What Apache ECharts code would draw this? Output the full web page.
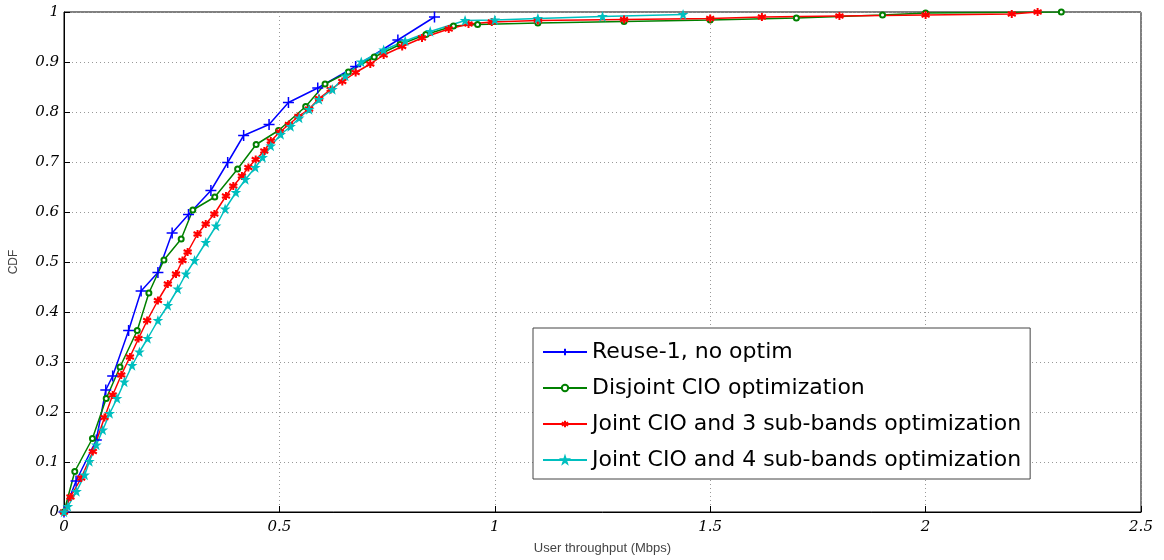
<!DOCTYPE html>
<html>
<head>
<meta charset="utf-8">
<script src="https://cdn.jsdelivr.net/npm/echarts@6/dist/echarts.min.js"></script>
<style>
  html, body { margin: 0; padding: 0; background: #fff; }
  #chart { width: 1164px; height: 560px; }
</style>
</head>
<body>
<div id="chart"></div>
<script>
// values
var reuseX = [0, 0.028, 0.075, 0.097, 0.113, 0.150, 0.179, 0.218, 0.251, 0.289, 0.341, 0.380, 0.417, 0.476, 0.521, 0.589, 0.677, 0.775, 0.860];
var reuseY = [0, 0.062, 0.144, 0.244, 0.272, 0.363, 0.442, 0.479, 0.558, 0.595, 0.643, 0.699, 0.753, 0.775, 0.819, 0.848, 0.891, 0.944, 0.990];

var disjointX = [0, 0.025, 0.066, 0.098, 0.130, 0.170, 0.197, 0.232, 0.272, 0.299, 0.350, 0.403, 0.446, 0.498, 0.561, 0.606, 0.66, 0.72, 0.78, 0.84, 0.904, 0.96, 1.1, 1.3, 1.5, 1.7, 1.9, 2.0, 2.315];
var disjointY = [0, 0.081, 0.147, 0.227, 0.290, 0.363, 0.438, 0.504, 0.546, 0.604, 0.630, 0.686, 0.735, 0.763, 0.811, 0.856, 0.880, 0.910, 0.935, 0.955, 0.972, 0.975, 0.978, 0.981, 0.984, 0.988, 0.994, 0.998, 1.0];

var joint3X = [0, 0.015, 0.040, 0.067, 0.094, 0.113, 0.133, 0.153, 0.173, 0.193, 0.218, 0.241, 0.260, 0.275, 0.287, 0.310, 0.329, 0.349, 0.376, 0.393, 0.413, 0.428, 0.445, 0.465, 0.480, 0.501, 0.522, 0.544, 0.569, 0.592, 0.619, 0.646, 0.677, 0.711, 0.742, 0.785, 0.831, 0.893, 0.939, 0.993, 1.1, 1.3, 1.5, 1.62, 1.8, 2.0, 2.2, 2.26];
var joint3Y = [0, 0.030, 0.068, 0.121, 0.189, 0.234, 0.274, 0.310, 0.347, 0.383, 0.423, 0.456, 0.476, 0.503, 0.520, 0.556, 0.576, 0.596, 0.632, 0.652, 0.672, 0.689, 0.705, 0.722, 0.742, 0.760, 0.775, 0.791, 0.806, 0.827, 0.845, 0.861, 0.879, 0.896, 0.914, 0.931, 0.948, 0.966, 0.976, 0.980, 0.983, 0.985, 0.987, 0.990, 0.992, 0.994, 0.996, 1.0];

var joint4X = [0, 0.009, 0.029, 0.048, 0.059, 0.075, 0.090, 0.106, 0.123, 0.140, 0.158, 0.175, 0.194, 0.218, 0.241, 0.264, 0.283, 0.303, 0.329, 0.353, 0.374, 0.399, 0.421, 0.444, 0.461, 0.480, 0.503, 0.526, 0.546, 0.569, 0.592, 0.623, 0.653, 0.69, 0.742, 0.792, 0.850, 0.931, 1.0, 1.1, 1.25, 1.437];
var joint4Y = [0, 0.011, 0.041, 0.074, 0.101, 0.134, 0.164, 0.197, 0.227, 0.260, 0.293, 0.320, 0.347, 0.383, 0.413, 0.446, 0.476, 0.503, 0.539, 0.572, 0.606, 0.639, 0.665, 0.689, 0.709, 0.732, 0.755, 0.771, 0.788, 0.805, 0.825, 0.845, 0.872, 0.900, 0.924, 0.942, 0.961, 0.983, 0.984, 0.987, 0.991, 0.995];

var names = ['Reuse-1, no optim', 'Disjoint CIO optimization', 'Joint CIO and 3 sub-bands optimization', 'Joint CIO and 4 sub-bands optimization'];

var plusPath = 'path://M0,-10 L0,10 M-10,0 L10,0';
var astPath = 'path://M0,-10 L0,10 M-8.7,-5 L8.7,5 M-8.7,5 L8.7,-5';
var starPath = 'path://M0,-10 L2.4,-3.1 L9.5,-3.1 L3.8,1.2 L5.9,8.1 L0,4 L-5.9,8.1 L-3.8,1.2 L-9.5,-3.1 L-2.4,-3.1 Z';

function pairs(xs, ys) {
  var out = [];
  for (var i = 0; i < xs.length; i++) out.push([xs[i], ys[i]]);
  return out;
}

function makeSeries(name, xs, ys, color, symbol, size, bw) {
  return {
    name: name,
    type: 'line',
    data: pairs(xs, ys),
    symbol: symbol,
    symbolSize: size,
    showAllSymbol: true,
    lineStyle: { color: color, width: 1.5 },
    itemStyle: { color: color, borderColor: color, borderWidth: bw },
    emphasis: { disabled: true }
  };
}

var chart = echarts.init(document.getElementById('chart'));
var option = {
  animation: false,
  backgroundColor: '#fff',
  grid: {
    left: 61, right: 23, top: 12, bottom: 46,
    show: true, borderColor: '#000', borderWidth: 1
  },
  legend: {
    left: 533, top: 328,
    orient: 'vertical',
    data: names,
    backgroundColor: '#fff',
    borderColor: '#444',
    borderWidth: 1,
    padding: [13, 9, 8, 9],
    itemWidth: 44,
    itemHeight: 8,
    itemGap: 14,
    textStyle: { fontFamily: 'DejaVu Sans', fontSize: 22, color: '#000' }
  },
  xAxis: {
    type: 'value',
    min: 0, max: 2.5, interval: 0.5,
    name: 'User throughput (Mbps)',
    nameLocation: 'middle',
    nameGap: 30,
    nameTextStyle: { fontFamily: 'Liberation Sans', fontSize: 13, color: '#444' },
    axisLine: { lineStyle: { color: '#000' } },
    axisTick: { inside: true, length: 6, lineStyle: { color: '#000' } },
    axisLabel: { fontFamily: 'DejaVu Serif', fontStyle: 'italic', fontSize: 15, color: '#000', margin: 8 },
    splitLine: { lineStyle: { color: '#999', type: [1, 3] } }
  },
  yAxis: {
    type: 'value',
    min: 0, max: 1, interval: 0.1,
    name: 'CDF',
    nameLocation: 'middle',
    nameGap: 44,
    nameTextStyle: { fontFamily: 'Liberation Sans', fontSize: 12, color: '#444' },
    axisLine: { lineStyle: { color: '#000' } },
    axisTick: { inside: true, length: 6, lineStyle: { color: '#000' } },
    axisLabel: { fontFamily: 'DejaVu Serif', fontStyle: 'italic', fontSize: 15, color: '#000', margin: 5 },
    splitLine: { lineStyle: { color: '#999', type: [1, 3] } }
  },
  series: [
    makeSeries(names[0], reuseX, reuseY, '#0000ff', plusPath, 11, 1.5),
    makeSeries(names[1], disjointX, disjointY, '#008000', 'emptyCircle', 5, 1.3),
    makeSeries(names[2], joint3X, joint3Y, '#ff0000', astPath, 8, 2),
    makeSeries(names[3], joint4X, joint4Y, '#00bfbf', starPath, 7, 1.3)
  ]
};
chart.setOption(option);
</script>
</body>
</html>
